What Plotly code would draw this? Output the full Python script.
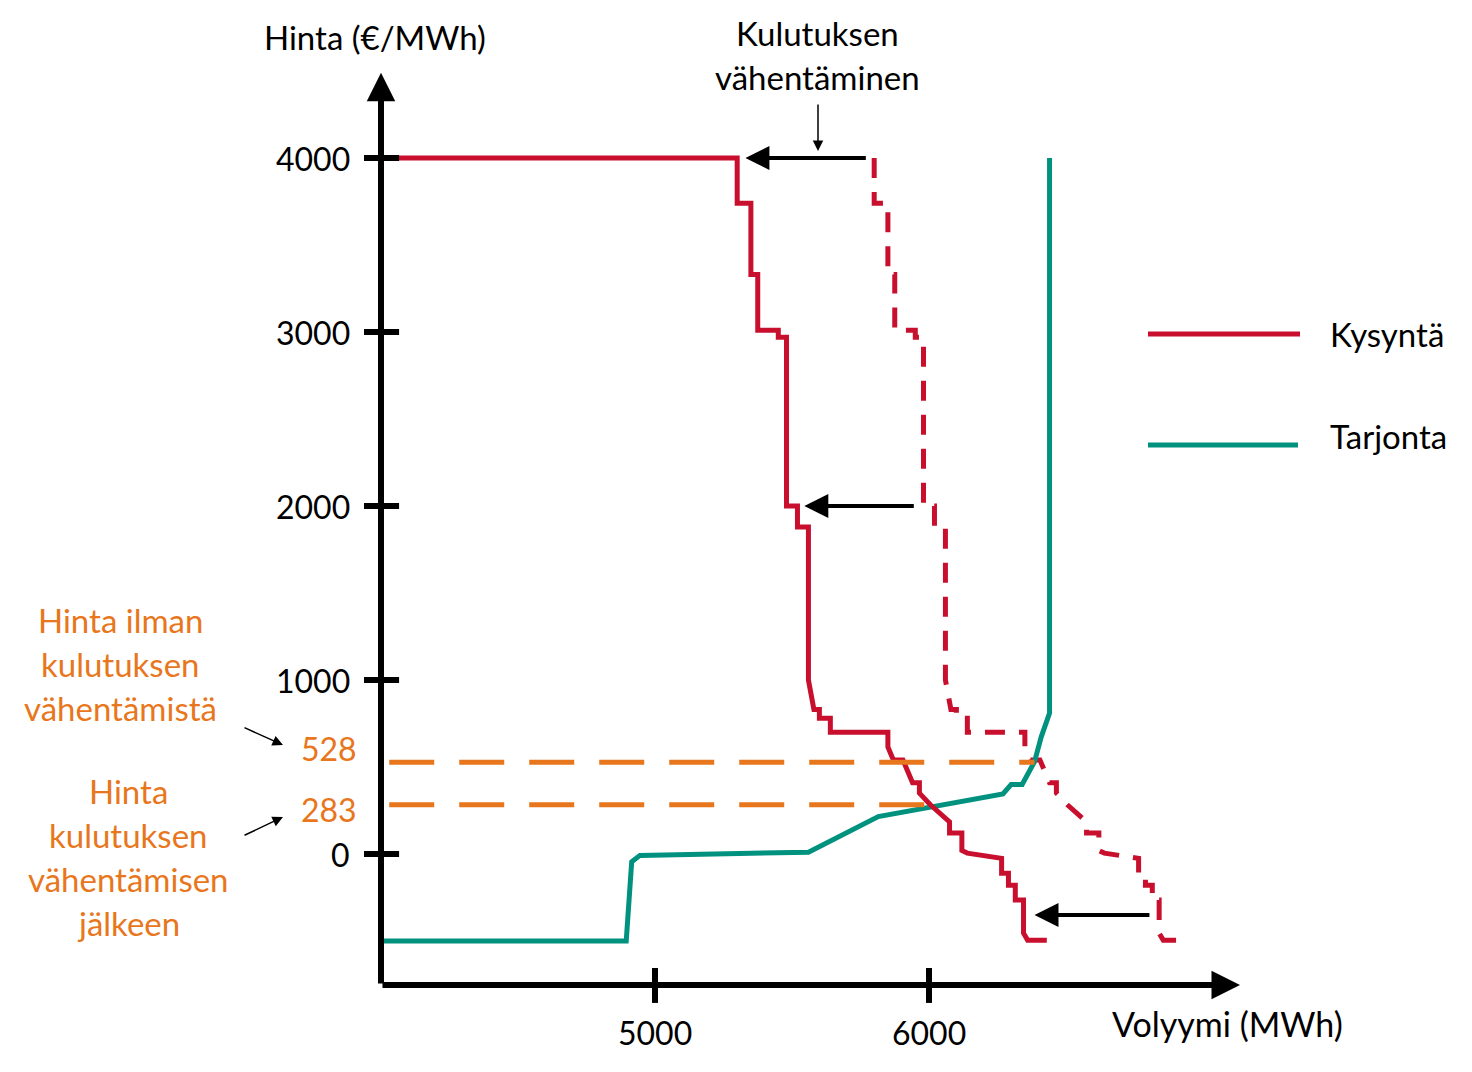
import plotly.graph_objects as go

# --------------------
# Data
# --------------------
# Demand after reduction (solid red)
demand_volume = [4000, 5300, 5300, 5350, 5350, 5375, 5375, 5450, 5450, 5480, 5480,
                 5520, 5520, 5560, 5560, 5580, 5600, 5600, 5640, 5640, 5850, 5850,
                 5870, 5905, 5940, 5965, 5965, 6005, 6075, 6075, 6120, 6120, 6140,
                 6265, 6265, 6290, 6290, 6315, 6315, 6345, 6345, 6360, 6430]
demand_price = [4000, 4000, 3740, 3740, 3330, 3330, 3010, 3010, 2970, 2970, 2000,
                2000, 1880, 1880, 1000, 830, 830, 780, 780, 700, 700, 615,
                540, 540, 410, 410, 350, 283, 185, 120, 120, 20, 5,
                -25, -110, -110, -180, -180, -265, -265, -455, -495, -495]

# Demand without reduction (dashed red)
orig_volume = [5800, 5800, 5850, 5850, 5875, 5875, 5950, 5950, 5980, 5980,
               6020, 6020, 6060, 6060, 6080, 6100, 6100, 6140, 6140, 6350, 6350,
               6370, 6405, 6440, 6465, 6465, 6505, 6575, 6575, 6620, 6620, 6640,
               6765, 6765, 6790, 6790, 6815, 6815, 6840, 6840, 6855, 6910]
orig_price = [4000, 3740, 3740, 3330, 3330, 3010, 3010, 2970, 2970, 2000,
              2000, 1880, 1880, 1000, 830, 830, 780, 780, 700, 700, 615,
              540, 540, 410, 410, 350, 283, 185, 120, 120, 20, 5,
              -25, -110, -110, -180, -180, -265, -265, -455, -495, -495]

# Supply (teal)
supply_volume = [4000, 4895, 4915, 4945, 5560, 5815, 6270, 6300, 6340, 6385, 6410, 6430, 6440, 6440]
supply_price = [-500, -500, -45, -8, 10, 215, 345, 400, 400, 530, 675, 780, 810, 4000]

# Equilibrium prices (orange)
price_before = 528
price_after = 283
price_before_end = 6385
price_after_end = 6000

y_ticks = [0, 1000, 2000, 3000, 4000]
x_ticks = [5000, 6000]

RED = '#C8102E'
TEAL = '#00927F'
ORANGE = '#E8761C'
FONT = 'Lato'
# page body has an 8px margin, so the figure is 16px smaller than the window
OFF = 8
W, H = 1456, 1056

# data ranges chosen so the axes land where they sit in the picture
X_RANGE = [2638.7, 7952.6]
Y_RANGE = [-1206.9, 4862.1]
AX_X = 4000      # where the price axis stands
AX_Y = -753      # where the volume axis lies


def px(x):
    return (x - OFF) / W


def py(y):
    return 1 - (y - OFF) / H


fig = go.Figure()

fig.add_trace(go.Scatter(x=orig_volume, y=orig_price, mode='lines',
                         line=dict(color=RED, width=5, dash='20px,14px'),
                         hoverinfo='skip'))
fig.add_trace(go.Scatter(x=supply_volume, y=supply_price, mode='lines',
                         line=dict(color=TEAL, width=5), hoverinfo='skip'))
fig.add_trace(go.Scatter(x=demand_volume, y=demand_price, mode='lines',
                         line=dict(color=RED, width=5), hoverinfo='skip'))
fig.add_trace(go.Scatter(x=[4030, price_before_end], y=[price_before, price_before], mode='lines',
                         line=dict(color=ORANGE, width=5, dash='45px,25px'), hoverinfo='skip'))
fig.add_trace(go.Scatter(x=[4030, price_after_end], y=[price_after, price_after], mode='lines',
                         line=dict(color=ORANGE, width=5, dash='45px,25px'), hoverinfo='skip'))

annotations = []

# axes with arrowheads
annotations.append(dict(x=AX_X, y=4490, ax=AX_X, ay=AX_Y, xref='x', yref='y', axref='x', ayref='y',
                        text='', showarrow=True, arrowhead=2, arrowwidth=6, arrowsize=0.95,
                        arrowcolor='black'))
annotations.append(dict(x=7135, y=AX_Y, ax=AX_X, ay=AX_Y, xref='x', yref='y', axref='x', ayref='y',
                        text='', showarrow=True, arrowhead=2, arrowwidth=6, arrowsize=0.95,
                        arrowcolor='black'))

# shift arrows (Kulutuksen vähentäminen)
for tail, head, level in [(5775, 5330, 4000), (5950, 5545, 2000), (6810, 6385, -350)]:
    annotations.append(dict(x=head, y=level, ax=tail, ay=level, xref='x', yref='y',
                            axref='x', ayref='y', text='', showarrow=True, arrowhead=2,
                            arrowwidth=4, arrowsize=1.2, arrowcolor='black'))


def add_pointer(head, tail):
    # thin arrow, head/tail given in picture pixels
    annotations.append(dict(x=px(head[0]), y=py(head[1]), xref='paper', yref='paper',
                            ax=tail[0] - head[0], ay=tail[1] - head[1], axref='pixel', ayref='pixel',
                            text='', showarrow=True, arrowhead=2, arrowwidth=1.5, arrowsize=1.4,
                            arrowcolor='black'))


add_pointer((818, 151), (818, 103))
add_pointer((283, 745), (243, 727))
add_pointer((283, 817), (243, 836))


def add_text(text, x, y, color='black', xanchor='center', size=33):
    annotations.append(dict(x=px(x), y=py(y), xref='paper', yref='paper', text=text,
                            showarrow=False, xanchor=xanchor, yanchor='middle',
                            font=dict(family=FONT, size=size, color=color)))


# tick labels
for t in y_ticks:
    annotations.append(dict(x=px(352), y=t, xref='paper', yref='y', text=str(t), showarrow=False,
                            xanchor='right', yanchor='middle', font=dict(family=FONT, size=32, color='black')))
for t in x_ticks:
    annotations.append(dict(x=t, y=py(1032), xref='x', yref='paper', text=str(t), showarrow=False,
                            xanchor='center', yanchor='middle', font=dict(family=FONT, size=32, color='black')))

add_text(str(price_before), 329, 748, ORANGE, size=32)
add_text(str(price_after), 329, 809, ORANGE, size=32)

add_text('Hinta (€/MWh)', 375, 37)
add_text('Volyymi (MWh)', 1227, 1023, size=34)
add_text('Kulutuksen', 817, 33)
add_text('vähentäminen', 817, 77)
add_text('Kysyntä', 1328, 334, xanchor='left')
add_text('Tarjonta', 1328, 436, xanchor='left')

for i, line in enumerate(['Hinta ilman', 'kulutuksen', 'vähentämistä']):
    add_text(line, 120, 620 + 44 * i, ORANGE)
for i, line in enumerate(['Hinta', 'kulutuksen', 'vähentämisen', 'jälkeen']):
    add_text(line, 128, 791 + 44 * i, ORANGE)

# tick marks and legend samples
shapes = []
for t in y_ticks:
    shapes.append(dict(type='line', xref='x', yref='y', x0=3938, x1=4066, y0=t, y1=t,
                       line=dict(color='black', width=6)))
for t in x_ticks:
    shapes.append(dict(type='line', xref='x', yref='y', x0=t, x1=t, y0=-655, y1=-856,
                       line=dict(color='black', width=6)))
shapes.append(dict(type='line', xref='paper', yref='paper', x0=px(1148), x1=px(1300),
                   y0=py(334), y1=py(334), line=dict(color=RED, width=5)))
shapes.append(dict(type='line', xref='paper', yref='paper', x0=px(1148), x1=px(1298),
                   y0=py(445), y1=py(445), line=dict(color=TEAL, width=5)))

fig.update_layout(
    width=W,
    height=H,
    margin=dict(l=0, r=0, t=0, b=0),
    paper_bgcolor='white',
    plot_bgcolor='white',
    showlegend=False,
    xaxis=dict(range=X_RANGE, visible=False, fixedrange=True),
    yaxis=dict(range=Y_RANGE, visible=False, fixedrange=True),
    annotations=annotations,
    shapes=shapes,
)

fig.write_html("out.html", config={'displayModeBar': False})
